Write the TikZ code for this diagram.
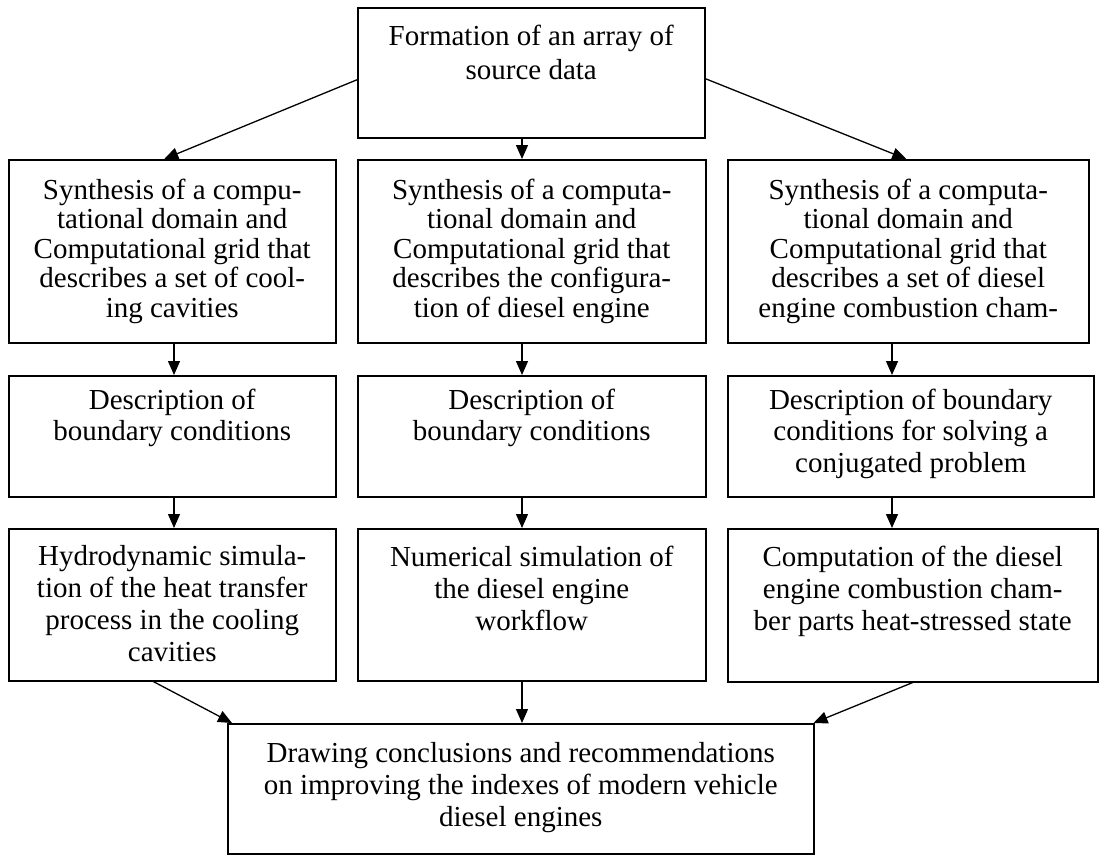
\documentclass[tikz,border=0pt]{standalone}
\usepackage{fontspec}
\setmainfont{Liberation Serif}
\usetikzlibrary{arrows.meta,calc}
\newcommand{\btxt}[5]{\begin{minipage}[c][#2][t]{#1}\centering\fontsize{29}{#4}\selectfont\vspace*{#3}#5\end{minipage}}
\begin{document}
\begin{tikzpicture}[x=1pt,y=-1pt,
  box/.style={draw=black, line width=1.5pt, inner sep=0pt, anchor=north west},
  arr/.style={line width=1.3pt, -{Triangle[length=14pt,width=12pt]}}]
\useasboundingbox (0,0) rectangle (1099,854);
% top
\node[box] (top) at (357,7) {\btxt{347pt}{130pt}{17pt}{34pt}{Formation of an array of\\ source data}};
% row 1
\node[box] (L1) at (8,159) {\btxt{327pt}{183pt}{19pt}{29.5pt}{Synthesis of a compu-\\ tational domain and\\ Computational grid that\\ describes a set of cool-\\ ing cavities}};
\node[box] (M1) at (357,159) {\btxt{348pt}{183pt}{19pt}{29.5pt}{Synthesis of a computa-\\ tional domain and\\ Computational grid that\\ describes the configura-\\ tion of diesel engine}};
\node[box] (R1) at (727,159) {\btxt{361pt}{183pt}{19pt}{29.5pt}{Synthesis of a computa-\\ tional domain and\\ Computational grid that\\ describes a set of diesel\\ engine combustion cham-}};
% row 2
\node[box] (L2) at (8,375) {\btxt{327pt}{121pt}{13pt}{31.5pt}{Description of\\ boundary conditions}};
\node[box] (M2) at (357,375) {\btxt{348pt}{121pt}{13pt}{31.5pt}{Description of\\ boundary conditions}};
\node[box] (R2) at (727,375) {\btxt{366pt}{121pt}{13pt}{31.5pt}{Description of boundary\\ conditions for solving a\\ conjugated problem}};
% row 3
\node[box] (L3) at (8,528) {\btxt{327pt}{152pt}{17pt}{32pt}{Hydrodynamic simula-\\ tion of the heat transfer\\ process in the cooling\\ cavities}};
\node[box] (M3) at (357,528) {\btxt{348pt}{152pt}{17pt}{32pt}{Numerical simulation of\\ the diesel engine\\ workflow}};
\node[box] (R3) at (727,528) {\btxt{370pt}{153pt}{17pt}{32pt}{Computation of the diesel\\ engine combustion cham-\\ ber parts heat-stressed state}};
% bottom
\node[box] (B) at (227,723) {\btxt{586pt}{130pt}{19pt}{32pt}{Drawing conclusions and recommendations\\ on improving the indexes of modern vehicle\\ diesel engines}};
% arrow columns
\coordinate (xl) at (174,0);
\coordinate (xm) at (522,0);
\coordinate (xr) at (892,0);
% arrows
\draw[arr] ([yshift=-7pt]top.west) -- ([xshift=-8pt]L1.north);
\draw[arr] (top.south -| xm) -- (M1.north -| xm);
\draw[arr] ([yshift=-6pt]top.east) -- ([xshift=-2pt]R1.north);
\draw[arr] (L1.south -| xl) -- (L2.north -| xl);
\draw[arr] (M1.south -| xm) -- (M2.north -| xm);
\draw[arr] (R1.south -| xr) -- (R2.north -| xr);
\draw[arr] (L2.south -| xl) -- (L3.north -| xl);
\draw[arr] (M2.south -| xm) -- (M3.north -| xm);
\draw[arr] (R2.south -| xr) -- (R3.north -| xr);
\draw[arr] ([xshift=-19pt]L3.south) -- ([xshift=5pt]B.north west);
\draw[arr] (M3.south -| xm) -- (B.north -| xm);
\draw[arr] (R3.south) -- ([xshift=-1pt]B.north east);
\end{tikzpicture}
\end{document}
